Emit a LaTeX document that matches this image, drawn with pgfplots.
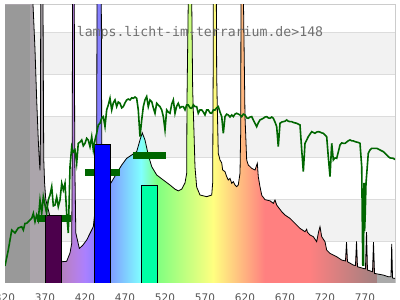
\documentclass[border=0pt]{standalone}
\usepackage{pgfplots}
\usepackage{pgfplotstable}
\pgfplotsset{compat=1.18}
\usepackage{fontspec}
\setmainfont{DejaVu Sans}
\newfontfamily\monofont{DejaVu Sans Mono}
\definecolor{bandgray}{HTML}{F2F2F2}
\definecolor{gridgray}{HTML}{DCDCDC}
\definecolor{framegray}{HTML}{CCCCCC}
\definecolor{uvgray}{HTML}{999999}
\definecolor{sungreen}{HTML}{006600}
\definecolor{barpurple}{HTML}{4C004C}
\definecolor{barblue}{HTML}{0000FF}
\definecolor{barcyan}{HTML}{00FFA5}
\definecolor{titlegray}{HTML}{707070}
\definecolor{labelgray}{HTML}{555555}
\pgfdeclarehorizontalshading{spectrum}{100bp}{%
 rgb(0bp)=(0.671,0.647,0.671);
 rgb(25bp)=(0.671,0.647,0.671);
 rgb(31.144bp)=(0.671,0.647,0.671);
 rgb(31.154bp)=(0.65,0.5,0.65);
 rgb(32.179bp)=(0.698,0.5,0.738);
 rgb(33.205bp)=(0.717,0.5,0.825);
 rgb(34.231bp)=(0.706,0.5,0.913);
 rgb(35.256bp)=(0.667,0.5,1);
 rgb(37.308bp)=(0.5,0.5,1);
 rgb(42.436bp)=(0.5,1,1);
 rgb(44.487bp)=(0.5,1,0.5);
 rgb(51.667bp)=(1,1,0.5);
 rgb(58.333bp)=(1,0.5,0.5);
 rgb(63.974bp)=(1,0.5,0.5);
 rgb(68.077bp)=(0.825,0.5,0.5);
 rgb(72.179bp)=(0.65,0.5,0.5);
 rgb(72.590bp)=(0.65,0.5,0.5);
 rgb(72.610bp)=(0.667,0.667,0.667);
 rgb(75bp)=(0.667,0.667,0.667);
 rgb(100bp)=(0.667,0.667,0.667)}

\pgfplotstableread{
x y
320 8
351 8
354.5 6.9
357.5 5.6
359.6 4.4
361.6 3.43
362.9 2.95
363.8 2.7
364.3 3.5
364.8 8
367.2 8
367.9 5
368.4 3.0
369.5 2.4
371 2.0
380 1.3
388 0.62
391.6 0.51
397.1 0.52
401.25 0.72
403.4 0.95
404.0 3
404.6 8
406.4 8
407.2 3
408.5 1.2
412.9 0.83
417 0.9
422.1 1.03
430.4 1.35
434.0 2
434.6 3.4
435.2 8
440.2 8
440.9 3.4
442 2.8
452.1 2.39
459.6 2.63
465.9 2.83
472.1 2.99
478.4 3.07
484.6 3.15
488.75 3.43
491.6 3.60
495 3.43
499.1 3.07
503.4 2.79
509.6 2.59
517.9 2.47
526.25 2.35
532.5 2.25
536.6 2.21
540.9 2.25
545 2.40
547.1 2.63
547.5 4.39
549.1 6.8
549.6 8
553.0 8
553.4 6.8
554.6 4.63
556.25 3.6
557.5 2.78
559.6 2.30
563.75 2.11
572.1 2.07
578.4 2.11
579.6 2.4
580.2 5
580.6 8
583.9 8
584.6 5
585.6 4
586.6 3.11
588.75 2.95
590.9 2.88
592.1 2.71
595 2.67
597.1 2.55
599.1 2.47
601.25 2.51
603.4 2.39
605.4 2.43
607.5 2.35
609.6 2.31
611.6 2.35
613.75 2.63
614.6 3.6
615.0 6.8
615.3 8
617.6 8
617.9 7
618.75 5.83
620 3.99
622.1 2.95
624.1 2.83
628.4 2.75
632.5 2.71
635.4 2.87
636.6 2.55
638.75 2.31
641 2.1
645 2.0
651.25 1.97
655.4 1.91
657.5 1.99
659.6 1.87
665.9 1.71
670 1.63
676.25 1.55
684.6 1.39
688.75 1.31
695 1.23
697.1 1.29
698 1.22
701.25 1.15
705.4 1.11
709.6 0.99
711.9 1.22
713.75 1.35
715.9 1.11
720 0.99
722.1 0.79
726.25 0.71
734.6 0.63
740.9 0.55
745.6 0.53
746.9 0.98
748.1 0.51
755.4 0.43
758.1 0.42
759.4 1.0
760.6 0.39
767.9 0.35
770.6 0.34
771.9 1.22
773.1 0.31
779.4 0.27
780.6 0.98
781.9 0.23
792.9 0.19
799.1 0.15
802.5 0.15
803.4 0.94
804.4 0.12
807.5 0.11
}\spec

\pgfplotstableread{
x y
320 0.41
324.1 0.79
328.4 1.27
332.5 1.2
336.6 1.32
340.9 1.35
342.9 1.27
345 1.43
347.1 1.43
349.1 1.47
351.25 1.51
353.4 1.55
355.4 1.67
357.5 1.47
359.6 1.63
361.6 1.51
363.75 1.99
365.9 1.67
367.9 2.07
370 1.87
371.9 1.68
374.1 1.99
376.25 2.11
378.4 2.31
380.4 1.85
382.5 1.87
384.6 2.06
386.6 1.83
388.75 1.99
390.9 2.39
392.9 2.23
395 2.39
397.1 1.67
399.1 1.2
400.25 2.0
401.25 2.79
403.4 3.27
405.4 3.14
407.5 3.19
409.6 2.87
411.6 3.35
413.75 3.38
415.9 3.43
417.9 3.29
420 3.35
422.1 3.47
424.1 3.43
426.25 3.27
428.4 3.51
430.4 3.19
432.5 3.43
434.6 3.59
436.6 3.79
438.75 3.83
440.9 3.96
442.9 3.99
445 3.75
447.1 4.15
449.1 4.27
451.25 4.43
453.4 4.15
455.4 4.32
457.5 4.39
459.6 4.23
461.6 4.34
463.75 4.31
465.9 4.2
467.9 4.23
470 4.32
472.1 4.39
474.1 4.41
476.25 4.39
478.4 4.44
480.4 4.43
482.5 4.46
484.6 4.43
486.6 4.15
488.75 3.51
490.9 3.91
492.9 4.23
495 4.39
497.1 4.47
499.1 4.23
501.25 4.39
503.4 4.35
505.4 4.2
507.5 4.07
509.6 4.31
511.6 4.27
513.75 4.23
515.9 4.15
517.9 3.99
520 3.67
522.1 4.15
524.1 4.1
526.25 4.07
528.4 4.29
530.4 4.39
532.5 4.07
534.6 4.24
536.6 4.31
538.75 4.2
540.9 4.23
542.9 4.23
545 4.15
547.1 4.27
549.1 4.27
551.25 4.2
553.4 4.19
555.4 4.27
557.5 4.23
559.6 4.23
561.6 4.07
563.75 4.15
565.9 4.15
567.9 4.1
570 4.03
572.1 4.15
574.1 4.15
576.25 4.08
578.4 4.07
580.4 4.15
582.5 4.15
584.6 4.2
586.6 4.23
588.75 4.1
590.9 3.99
592.9 3.59
595 3.99
597.1 4.05
599.1 4.03
601.25 3.98
603.4 4.03
605.4 3.99
607.5 4.05
609.6 4.07
611.6 4.05
613.75 4.03
615.9 3.99
617.9 4.05
620 4.03
622.1 3.96
624.1 3.95
626.25 3.98
628.4 3.99
630.4 3.91
632.5 3.83
634.6 3.75
636.6 3.84
638.75 3.91
640.9 3.93
642.9 3.95
645 3.98
647.1 3.99
649.1 3.96
651.25 3.95
653.4 3.98
655.4 3.95
657.5 3.86
659.6 3.75
661.6 3.27
663.75 3.83
665.9 3.86
667.9 3.87
670 3.88
672.1 3.91
674.1 3.88
676.25 3.87
678.4 3.87
680.4 3.85
682.5 3.84
684.6 3.83
686.6 3.81
688.75 3.79
690.9 3.19
692.9 2.67
695 3.35
697.1 3.43
699.1 3.51
701.25 3.57
703.4 3.63
705.4 3.61
707.5 3.59
709.6 3.62
711.6 3.63
713.75 3.62
715.9 3.6
717.9 3.59
720 3.55
722.1 3.51
724.1 3.03
726.25 2.55
728.4 3.35
730.4 2.95
732.5 3.0
734.6 2.99
736.6 3.14
738.75 3.31
740.9 3.36
742.9 3.35
745 3.35
747.1 3.38
749.1 3.41
751.25 3.43
753.4 3.41
755.4 3.41
757.5 3.39
759.6 3.38
761.6 3.37
763.75 3.35
765.9 2.79
766.6 1.51
767.25 0.43
768.1 0.43
768.8 2.4
769.5 1.25
770.2 1.6
771.25 2.39
774.1 3.11
776.25 3.19
778.4 3.23
784.6 3.23
788.75 3.19
792.9 3.15
796.25 3.09
799.1 3.03
801.25 3.0
805.4 2.99
807.5 2.96
}\sun

\begin{document}
\begin{tikzpicture}
\begin{axis}[
  at={(0pt,0pt)}, anchor=south west,
  scale only axis, width=390pt, height=278pt,
  xmin=320, xmax=807.5, ymin=0, ymax=6.667,
  axis line style={framegray, line width=1pt},
  xtick={320,370,420,470,520,570,620,670,720,770},
  ytick=\empty,
  major tick length=0pt,
  xticklabel style={font=\fontsize{10.5}{10.5}\selectfont, text=labelgray, anchor=north, inner sep=0pt, yshift=-10.3pt},
  /pgf/number format/assume math mode=true,
  /pgf/number format/1000 sep={},
]
\fill[bandgray] (axis cs:320,1) rectangle (axis cs:807.5,2);
\fill[bandgray] (axis cs:320,3) rectangle (axis cs:807.5,4);
\fill[bandgray] (axis cs:320,5) rectangle (axis cs:807.5,6);
\draw[gridgray, line width=1pt] (axis cs:320,1) -- (axis cs:807.5,1);
\draw[gridgray, line width=1pt] (axis cs:320,2) -- (axis cs:807.5,2);
\draw[gridgray, line width=1pt] (axis cs:320,3) -- (axis cs:807.5,3);
\draw[gridgray, line width=1pt] (axis cs:320,4) -- (axis cs:807.5,4);
\draw[gridgray, line width=1pt] (axis cs:320,5) -- (axis cs:807.5,5);
\draw[gridgray, line width=1pt] (axis cs:320,6) -- (axis cs:807.5,6);
% spectrum
\addplot[draw=none, shade, shading=spectrum] table[x=x,y=y]{\spec} \closedcycle;
\addplot[black, line width=0.8pt] table[x=x,y=y]{\spec};
% UV band
\addplot[draw=none, fill=uvgray] coordinates {(320,6.667) (351,6.667)} \closedcycle;
% green segments
\addplot[sungreen, line width=6.7pt] coordinates {(359.6,1.55) (402.5,1.55)};
\addplot[sungreen, line width=6.7pt] coordinates {(420,2.65) (463.75,2.65)};
\addplot[sungreen, line width=6.7pt] coordinates {(480,3.05) (521.25,3.05)};
% bars
\addplot[fill=barpurple, draw=black, line width=0.8pt] coordinates {(371,0) (371,1.63) (391,1.63) (391,0)} -- cycle;
\addplot[fill=barblue, draw=black, line width=0.8pt] coordinates {(431.5,0) (431.5,3.33) (452,3.33) (452,0)} -- cycle;
\addplot[fill=barcyan, draw=black, line width=0.8pt] coordinates {(490.5,0) (490.5,2.33) (510.7,2.33) (510.7,0)} -- cycle;
% sunlight
\addplot[sungreen, line width=1.6pt] table[x=x,y=y]{\sun};
\end{axis}
\node[anchor=base, text=titlegray, font=\monofont\fontsize{13.2}{13.2}\selectfont, inner sep=0pt] at (195pt,246.7pt) {lamps.licht-im-terrarium.de>148};
\pgfresetboundingbox
\path[use as bounding box] (-5pt,-17pt) rectangle (395pt,283pt);
\end{tikzpicture}
\end{document}
